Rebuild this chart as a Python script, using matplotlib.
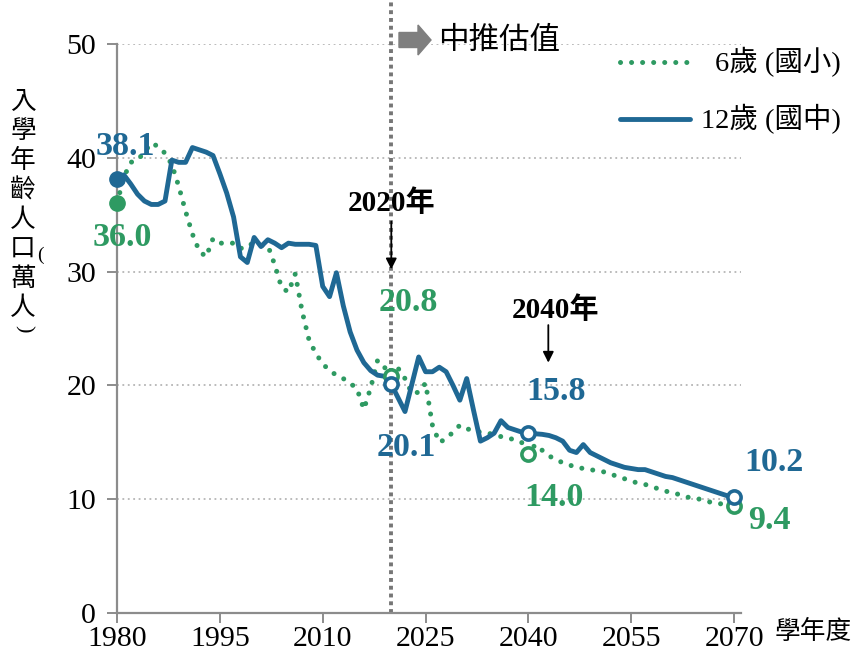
import matplotlib
matplotlib.use("Agg")
import matplotlib.pyplot as plt
from matplotlib.lines import Line2D
from matplotlib.patches import FancyArrow
from matplotlib.transforms import IdentityTransform
import numpy as np

years = list(range(1980, 2071))

age12 = [38.1, 38.5, 37.7, 36.8, 36.2, 35.9, 35.9, 36.2, 39.8, 39.6,
         39.6, 40.9, 40.7, 40.5, 40.2, 38.6, 36.9, 34.8, 31.3, 30.8,
         33.0, 32.2, 32.8, 32.5, 32.1, 32.5, 32.4, 32.4, 32.4, 32.3,
         28.7, 27.8, 29.9, 27.0, 24.7, 23.1, 22.0, 21.3, 20.9, 20.8,
         20.1, 18.9, 17.7, 20.1, 22.5, 21.2, 21.2, 21.6, 21.2, 20.0,
         18.7, 20.6, 17.8, 15.1, 15.4, 15.8, 16.9, 16.3, 16.1, 15.9,
         15.8, 15.75, 15.7, 15.6, 15.4, 15.1, 14.3, 14.1, 14.8, 14.1,
         13.8, 13.5, 13.2, 13.0, 12.8, 12.7, 12.6, 12.6, 12.4, 12.2,
         12.0, 11.9, 11.7, 11.5, 11.3, 11.1, 10.9, 10.7, 10.5, 10.3,
         10.2]

age6 = [36.0, 38.3, 39.6, 39.8, 40.5, 41.3, 41.0, 40.4, 39.4, 37.5,
        35.3, 33.3, 31.8, 31.3, 32.9, 32.5, 32.5, 32.5, 32.0, 32.4,
        32.4, 32.3, 32.3, 30.6, 28.6, 28.2, 29.8, 26.5, 24.0, 22.8,
        21.9, 21.3, 20.9, 20.6, 20.2, 19.7, 17.9, 19.8, 22.2, 21.6,
        20.8, 21.5, 20.6, 19.3, 19.4, 20.2, 16.5, 15.0, 15.3, 15.9,
        16.5, 16.2, 16.0, 15.9, 15.8, 15.7, 15.5, 15.4, 15.2, 15.0,
        14.0, 14.8, 14.3, 13.8, 13.5, 13.2, 13.0, 12.8, 12.7, 12.6,
        12.5, 12.4, 12.2, 12.0, 11.8, 11.6, 11.4, 11.3, 11.1, 10.9,
        10.7, 10.6, 10.4, 10.2, 10.1, 10.0, 9.8, 9.7, 9.6, 9.5,
        9.4]

xticks = [1980, 1995, 2010, 2025, 2040, 2055, 2070]
yticks = [0, 10, 20, 30, 40, 50]
key_years = [2020, 2040, 2070]
label6 = "6歲 (國小)"
label12 = "12歲 (國中)"

BLUE = "#1F6894"
GREEN = "#2E9A62"
GRAY = "#8C8C8C"
SERIF = ["Liberation Serif", "Noto Sans CJK TC"]
CJK = ["Noto Sans CJK TC", "DejaVu Sans"]

W, H = 856, 651
fig = plt.figure(figsize=(W / 100, H / 100), dpi=100)
ax = fig.add_axes([117 / W, 1 - 613 / H, (741 - 117) / W, (613 - 44) / H])

ax.set_xlim(1980, 2071)
ax.set_ylim(0, 50)

for v in yticks[1:]:
    ax.axhline(v, color="#B5B5B5", lw=1.3, ls=(0, (1, 2)), zorder=1)

ax.plot([2020, 2020], [0, 53.8], color="#767676", lw=2.8, ls=(0, (1, 1)),
        clip_on=False, zorder=2)

ax.plot(years, age6, color=GREEN, lw=3.6, ls=(0, (0.01, 2.2)),
        dash_capstyle="round", zorder=3)
ax.plot(years, age12, color=BLUE, lw=3.5, solid_joinstyle="round",
        solid_capstyle="round", zorder=4)

i0 = 0
ax.plot(years[i0], age12[i0], "o", ms=11, color=BLUE, zorder=6, clip_on=False)
ax.plot(years[i0], age6[i0], "o", ms=11, color=GREEN, zorder=6, clip_on=False)
for ky in key_years:
    i = years.index(ky)
    ax.plot(ky, age6[i], "o", ms=9.5, mfc="white", mec=GREEN, mew=2.6,
            zorder=5, clip_on=False)
    ax.plot(ky, age12[i], "o", ms=9.5, mfc="white", mec=BLUE, mew=2.6,
            zorder=6, clip_on=False)

def vlabel(text, year, series, color, dx, dy):
    i = years.index(year)
    ax.annotate(text, xy=(year, series[i]), xytext=(dx, dy),
                textcoords="offset pixels", ha="center", va="center",
                color=color, fontsize=24.5, fontweight="bold", family=SERIF,
                zorder=7, annotation_clip=False)

vlabel(f"{age12[0]:.1f}", 1980, age12, BLUE, 8, 33)
vlabel(f"{age6[0]:.1f}", 1980, age6, GREEN, 5, -34)
vlabel(f"{age6[40]:.1f}", 2020, age6, GREEN, 17, 74)
vlabel(f"{age12[40]:.1f}", 2020, age12, BLUE, 15, -63)
vlabel(f"{age12[60]:.1f}", 2040, age12, BLUE, 28, 42)
vlabel(f"{age6[60]:.1f}", 2040, age6, GREEN, 26, -44)
vlabel(f"{age12[90]:.1f}", 2070, age12, BLUE, 40, 34)
vlabel(f"{age6[90]:.1f}", 2070, age6, GREEN, 35, -14)

ax.text(2020, 36.0, "2020年", ha="center", va="center", fontsize=21,
        fontweight="bold", family=SERIF, color="black")
ax.annotate("", xy=(2020, 30.2), xytext=(2020, 34.4),
            arrowprops=dict(arrowstyle="-|>", color="black", lw=1.3,
                            mutation_scale=16, shrinkA=0, shrinkB=0))
ax.text(2043.9, 26.6, "2040年", ha="center", va="center", fontsize=21,
        fontweight="bold", family=SERIF, color="black")
ax.annotate("", xy=(2042.9, 22.0), xytext=(2042.9, 25.3),
            arrowprops=dict(arrowstyle="-|>", color="black", lw=1.3,
                            mutation_scale=16, shrinkA=0, shrinkB=0))

for s in ["top", "right"]:
    ax.spines[s].set_visible(False)
for s in ["left", "bottom"]:
    ax.spines[s].set_color(GRAY)
    ax.spines[s].set_linewidth(1.6)
ax.set_xticks(xticks)
ax.set_yticks(yticks)
ax.tick_params(axis="both", color=GRAY, width=1.4, length=7, direction="out")
ax.tick_params(axis="x", pad=2.5)
ax.tick_params(axis="y", pad=8)
for lab in ax.get_xticklabels() + ax.get_yticklabels():
    lab.set_family(SERIF)
    lab.set_fontsize(21.5)

# y-axis title, stacked characters
ychars = ["入", "學", "年", "齡", "人", "口", "萬", "人"]
ypos = [102, 131.5, 161, 190.5, 220, 249.5, 279, 308.5]
for ch, yp in zip(ychars, ypos):
    fig.text(23 / W, 1 - yp / H, ch, ha="center", va="center", fontsize=18.5,
             family=CJK)
fig.text(40 / W, 1 - 255 / H, "(", ha="center", va="center", fontsize=14,
         family=SERIF)
fig.text(23 / W, 1 - 329 / H, ")", ha="center", va="center", fontsize=16,
         family=SERIF, rotation=-90)

fig.text(775 / W, 1 - 632 / H, "學年度", ha="left", va="center",
         fontsize=18.5, family=CJK)

# estimate marker
arr = FancyArrow(399, H - 40, 32, 0, width=15, head_width=30, head_length=13,
                 length_includes_head=True, color="#7F7F7F",
                 transform=IdentityTransform())
fig.add_artist(arr)
fig.text(438 / W, 1 - 40 / H, "中推估值", ha="left", va="center",
         fontsize=22, family=CJK)

# legend
fig.add_artist(Line2D([620 / W, 688 / W], [1 - 62 / H, 1 - 62 / H],
                      transform=fig.transFigure, color=GREEN, lw=3.6,
                      ls=(0, (0.01, 2.2)), dash_capstyle="round"))
fig.add_artist(Line2D([620 / W, 690 / W], [1 - 119 / H, 1 - 119 / H],
                      transform=fig.transFigure, color=BLUE, lw=3.5,
                      solid_capstyle="round"))
fig.text(841 / W, 1 - 62 / H, label6, ha="right", va="center", fontsize=20.5,
         family=SERIF)
fig.text(841 / W, 1 - 119 / H, label12, ha="right", va="center", fontsize=20.5,
         family=SERIF)

fig.savefig("out.png", dpi=100)
